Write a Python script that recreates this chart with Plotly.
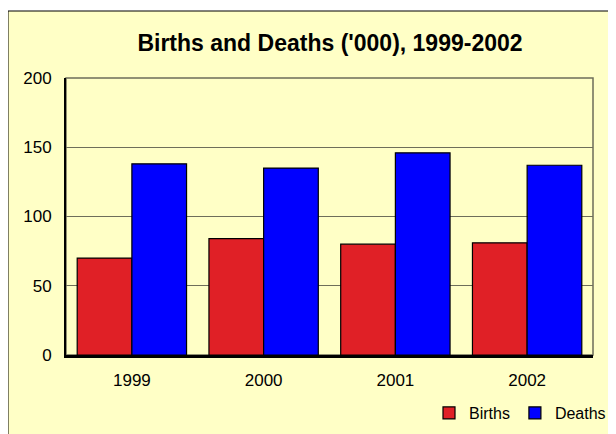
import plotly.graph_objects as go

years = ["1999", "2000", "2001", "2002"]
births = [70, 84, 80, 81]
deaths = [138, 135, 146, 137]
title_text = "Births and Deaths ('000), 1999-2002"

BG = "#FFFFC6"
OFF = 8  # page body margin

L, R, T, B = 66 - OFF, 31, 78 - OFF, 87
W, H = 616, 434
pw, ph = W - L - R, H - T - B


def px_x(x):  # window x -> paper fraction
    return (x - OFF - L) / pw


def px_y(y):  # window y -> paper fraction
    return 1 - (y - OFF - T) / ph


fig = go.Figure()
fig.add_trace(go.Bar(x=years, y=births, name="Births",
                     marker=dict(color="#E02026", line=dict(color="#000000", width=1.2))))
fig.add_trace(go.Bar(x=years, y=deaths, name="Deaths",
                     marker=dict(color="#0000FF", line=dict(color="#000000", width=1.2))))

fig.update_layout(
    width=W, height=H,
    margin=dict(l=L, r=R, t=T, b=B),
    paper_bgcolor="white",
    plot_bgcolor=BG,
    barmode="group",
    bargap=0.17,
    bargroupgap=0,
    title=dict(text="<b>" + title_text + "</b>", x=(330 - OFF) / W, xanchor="center",
               y=1 - (43 - OFF) / H, yanchor="middle",
               font=dict(family="Liberation Sans, Arial, sans-serif", size=23, color="#000000")),
    font=dict(family="Liberation Sans, Arial, sans-serif", size=17, color="#000000"),
    legend=dict(orientation="h", x=px_x(429), xanchor="left", y=px_y(413), yanchor="middle",
                bgcolor="rgba(0,0,0,0)", font=dict(size=16), borderwidth=0, tracegroupgap=0),
    showlegend=True,
    shapes=[
        dict(type="rect", xref="paper", yref="paper", x0=px_x(8), x1=px_x(640),
             y0=px_y(460), y1=px_y(11),
             fillcolor=BG, line=dict(color="#000000", width=1), layer="below"),
        dict(type="rect", xref="paper", yref="paper", x0=0, x1=1, y0=0, y1=1,
             line=dict(color="#6E6E5A", width=1.5), fillcolor="rgba(0,0,0,0)", layer="below"),
    ],
)
fig.update_yaxes(range=[0, 200], tickvals=[0, 50, 100, 150, 200], showgrid=True, gridcolor="#6E6E5A",
                 gridwidth=1.3, showline=True, linecolor="#000000", linewidth=2, ticks="", zeroline=False,
                 ticklabelstandoff=9)
fig.update_xaxes(showline=True, linecolor="#000000", linewidth=2.5, ticks="", showgrid=False,
                 ticklabelstandoff=8)

fig.write_html("out.html")
